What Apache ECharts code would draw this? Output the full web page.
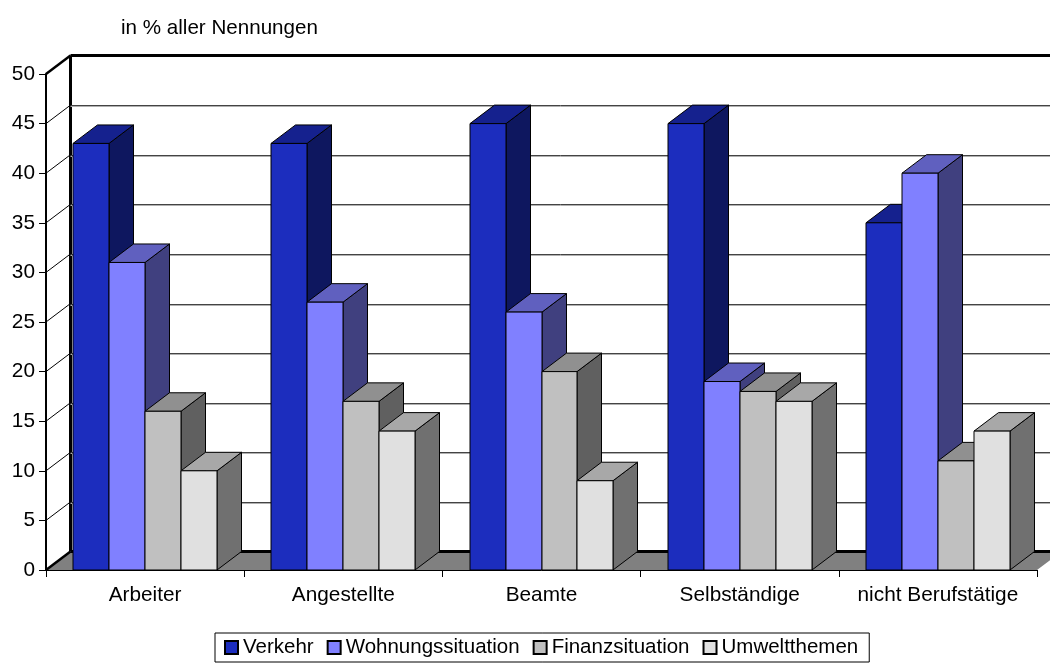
<!DOCTYPE html>
<html><head><meta charset="utf-8">
<style>html,body{margin:0;padding:0;background:#fff}#c{width:1050px;height:663px}</style>
<script src="https://cdn.jsdelivr.net/npm/echarts@6/dist/echarts.min.js"></script>
</head><body><div id="c"></div>
<script>
const categories = ['Arbeiter','Angestellte','Beamte','Selbständige','nicht Berufstätige'];
const verkehr = [43,43,45,45,35];
const wohnung = [31,27,26,19,40];
const finanz = [16,17,20,18,11];
const umwelt = [10,14,9,17,14];
const yTicks = [0,5,10,15,20,25,30,35,40,45,50];
const seriesNames = ['Verkehr','Wohnungssituation','Finanzsituation','Umweltthemen'];
const seriesValues = [verkehr,wohnung,finanz,umwelt];
const palette = [
  {front:'#1C2DBE',top:'#15218E',side:'#0E175F'},
  {front:'#8080FF',top:'#6060BF',side:'#40407F'},
  {front:'#C0C0C0',top:'#909090',side:'#606060'},
  {front:'#E0E0E0',top:'#A8A8A8',side:'#707070'}
];
const DX = 24.5, DY = -18.5;
const font = '"Liberation Sans", Arial, sans-serif';
const chart = echarts.init(document.getElementById('c'), null, {renderer:'canvas'});

function renderWall(params, api){
  const v = api.value(1), cs = params.coordSys;
  const y = api.coord([0, v])[1], x0 = cs.x, x1 = cs.x + cs.width + DX;
  const ch = [];
  const isEdge = v === yTicks[0] || v === yTicks[yTicks.length-1];
  const yb = Math.round(y+DY) + 0.5;
  if (v === yTicks[0]) {
    ch.push({type:'polygon', shape:{points:[[x0,y],[x0+DX,y+DY],[x1,y+DY],[x1-DX,y]]},
      style:{fill:'#808080', stroke:null}});
    ch.push({type:'line', shape:{x1:x0+DX,y1:cs.y+DY,x2:x0+DX,y2:y+DY}, style:{stroke:'#000',lineWidth:3}});
  }
  if (!isEdge) {
    ch.push({type:'line', shape:{x1:x0+DX,y1:yb+1,x2:x1,y2:yb+1}, style:{stroke:'#b0b0b0',lineWidth:1}});
    ch.push({type:'line', shape:{x1:x0+DX,y1:yb,x2:x1,y2:yb}, style:{stroke:'#444',lineWidth:1}});
  } else {
    ch.push({type:'line', shape:{x1:x0+DX,y1:y+DY,x2:x1,y2:y+DY}, style:{stroke:'#000',lineWidth:3}});
  }
  ch.push({type:'line', shape:{x1:x0,y1:y,x2:x0+DX,y2:y+DY}, style:{stroke:'#000',lineWidth:isEdge?2.5:1}});
  return {type:'group', children:ch};
}
function renderBar(seriesIdx){
  return function(params, api){
    const c = api.coord([api.value(0), api.value(1)]);
    const base = api.coord([api.value(0), 0]);
    const w = api.size([1,0])[0] * 0.1816;
    const xL = Math.round(c[0] + (seriesIdx-2)*w), xR = Math.round(c[0] + (seriesIdx-1)*w);
    const yT = c[1], yB = base[1], p = palette[seriesIdx];
    const st = f => ({fill:f, stroke:'#000', lineWidth:1});
    return {type:'group', children:[
      {type:'polygon', shape:{points:[[xR,yB],[xR+DX,yB+DY],[xR+DX,yT+DY],[xR,yT]]}, style:st(p.side)},
      {type:'polygon', shape:{points:[[xL,yT],[xL+DX,yT+DY],[xR+DX,yT+DY],[xR,yT]]}, style:st(p.top)},
      {type:'rect', shape:{x:xL,y:yT,width:xR-xL,height:yB-yT}, style:st(p.front)}
    ]};
  };
}
const series = [{
  name:'walls', type:'custom', renderItem:renderWall, silent:true, z:1,
  encode:{x:0,y:1}, data:yTicks.map(t=>[0,t])
}];
seriesNames.forEach((n,i)=>{
  series.push({
    name:n, type:'custom', renderItem:renderBar(i), z:2+i,
    itemStyle:{color:palette[i].front, borderColor:'#000', borderWidth:1},
    encode:{x:0,y:1}, data:seriesValues[i].map((v,k)=>[k,v])
  });
});
chart.setOption({
  animation:false, backgroundColor:'#fff',
  title:{text:'in % aller Nennungen', left:116, top:13, textStyle:{fontFamily:font,fontSize:20.6,fontWeight:'normal',color:'#000'}},
  grid:{left:46, right:13, top:74, bottom:93},
  legend:{data:seriesNames, left:215, top:633, padding:[4,11,4,9], itemGap:13, itemWidth:13, itemHeight:13,
    icon:'rect', borderColor:'#000', borderWidth:1, backgroundColor:'#fff',
    textStyle:{fontFamily:font,fontSize:20.5,color:'#000'}},
  xAxis:{type:'category', data:categories, z:10,
    axisLine:{lineStyle:{color:'#000',width:1}},
    axisTick:{show:true,length:7,interval:0,lineStyle:{color:'#000'}},
    axisLabel:{fontFamily:font,fontSize:20.8,color:'#000',margin:15,interval:0}, splitLine:{show:false}},
  yAxis:{type:'value', min:0, max:50, interval:5, z:10,
    axisLine:{show:true,lineStyle:{color:'#000',width:2}},
    axisTick:{show:true,length:7,lineStyle:{color:'#000'}},
    axisLabel:{fontFamily:font,fontSize:20.8,color:'#000',margin:11}, splitLine:{show:false}},
  series
});
</script></body></html>
